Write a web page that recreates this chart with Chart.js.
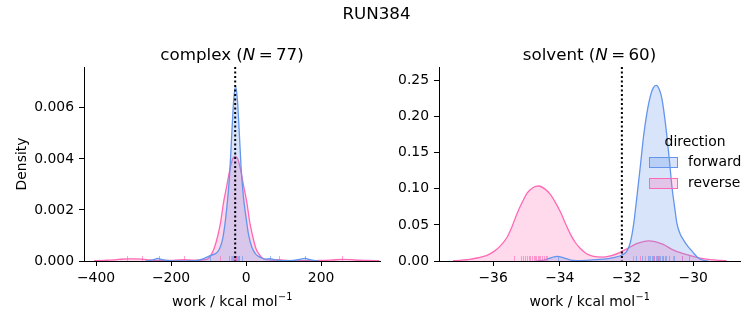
<!DOCTYPE html>
<html>
<head>
<meta charset="utf-8">
<script src="https://cdn.jsdelivr.net/npm/chart.js@4.4.1/dist/chart.umd.min.js"></script>
<style>
    html, body { margin: 0; padding: 0; background: #fff; }
    #wrap { position: relative; width: 753px; height: 325px; }
    #wrap canvas { position: absolute; left: 0; top: 0; }
</style>
</head>
<body>
<div id="wrap">
    <canvas id="complexChart" width="753" height="325"></canvas>
    <canvas id="solventChart" width="753" height="325"></canvas>
</div>
<script>
const FONT = "'DejaVu Sans', sans-serif";
const BLUE = '#6495ed';
const PINK = '#ff69b4';

// tick labels
const complexXTicks = [-400, -200, 0, 200];
const complexYTicks = [0, 0.002, 0.004, 0.006];
const solventXTicks = [-36, -34, -32, -30];
const solventYTicks = [0, 0.05, 0.10, 0.15, 0.20, 0.25];

// complex: density curves
const complexForwardX = [-268, -255, -245, -235, -225, -212, -195, -160, -130, -115, -100, -90, -80, -70, -62, -55, -48, -43, -38, -33, -28, -23, -18, -13, -7, 0, 7, 15, 25, 37, 50, 64, 78, 95, 125, 145, 157, 170, 193];
const complexForwardY = [0, 0.00002, 0.00006, 0.0001, 0.00006, 0.00002, 0.000005, 0.000005, 0.00002, 0.00008, 0.00018, 0.00024, 0.0003, 0.0005, 0.0009, 0.0016, 0.0026, 0.0036, 0.005, 0.0063, 0.00685, 0.0063, 0.005, 0.0036, 0.0025, 0.0017, 0.001, 0.00056, 0.00028, 0.00015, 0.00007, 0.00009, 0.00004, 0.00001, 0.00002, 0.00007, 0.0001, 0.00005, 0];
const complexReverseX = [-405, -370, -340, -318, -295, -278, -255, -230, -200, -180, -165, -150, -125, -110, -100, -91, -85, -76, -68, -60, -52, -43, -36, -29, -22, -15, -6, 2, 10, 18, 26, 33, 45, 60, 75, 88, 100, 130, 170, 200, 230, 256, 280, 300, 325, 355];
const complexReverseY = [0.00001, 0.00003, 0.00006, 0.00008, 0.00008, 0.00007, 0.00004, 0.00002, 0.00002, 0.00004, 0.00005, 0.00004, 0.00003, 0.00005, 0.0001, 0.0003, 0.0005, 0.00095, 0.0015, 0.0023, 0.0029, 0.0036, 0.004, 0.0041, 0.004, 0.0036, 0.0029, 0.0023, 0.0015, 0.00095, 0.0005, 0.0003, 0.0001, 0.00004, 0.00003, 0.00005, 0.00003, 0.00001, 0.00001, 0.00002, 0.00004, 0.00006, 0.00005, 0.00003, 0.00002, 0.00001];
const complexForwardRug = [-232, -96, -45, -38, -34, -31, -29, -27, -25, -22, -18, -12, 64, 157];
const complexReverseRug = [-318, -278, -165, -69, -40, -33, -30, -28, -26, -20, 88, 256];
const complexMarker = -29;

// solvent: density curves
const solventForwardX = [-34.7, -34.45, -34.25, -34.08, -33.9, -33.7, -33.5, -33.2, -32.9, -32.6, -32.35, -32.15, -32.0, -31.89, -31.79, -31.69, -31.59, -31.49, -31.39, -31.29, -31.2, -31.11, -31.02, -30.94, -30.86, -30.79, -30.71, -30.64, -30.56, -30.49, -30.39, -30.29, -30.19, -30.09, -29.99, -29.89, -29.79, -29.69, -29.55];
const solventForwardY = [0, 0.0015, 0.0048, 0.0065, 0.0048, 0.0015, 0.0005, 0.001, 0.002, 0.003, 0.005, 0.008, 0.013, 0.025, 0.05, 0.089, 0.13, 0.173, 0.205, 0.228, 0.24, 0.2435, 0.238, 0.225, 0.2, 0.173, 0.137, 0.103, 0.075, 0.052, 0.037, 0.029, 0.022, 0.0165, 0.011, 0.006, 0.0025, 0.001, 0];
const solventReverseX = [-37.2, -37.0, -36.7, -36.45, -36.2, -35.98, -35.78, -35.58, -35.43, -35.28, -35.13, -34.98, -34.8, -34.63, -34.45, -34.28, -34.13, -33.98, -33.84, -33.69, -33.54, -33.39, -33.2, -32.99, -32.69, -32.45, -32.19, -31.95, -31.7, -31.5, -31.34, -31.15, -30.9, -30.59, -30.35, -30.09, -29.8, -29.49, -29.2, -29.0];
const solventReverseY = [0.0005, 0.001, 0.0022, 0.0045, 0.0075, 0.013, 0.021, 0.033, 0.048, 0.066, 0.081, 0.094, 0.102, 0.104, 0.1, 0.092, 0.081, 0.068, 0.053, 0.038, 0.026, 0.0176, 0.01, 0.0065, 0.0055, 0.0075, 0.012, 0.018, 0.024, 0.027, 0.028, 0.027, 0.023, 0.015, 0.011, 0.0075, 0.004, 0.0018, 0.0008, 0.0004];
const solventForwardRug = [-34.06, -31.72, -31.55, -31.37, -31.3, -31.25, -31.21, -31.17, -31.13, -31.1, -31.07, -31.03, -30.99, -30.95, -30.9, -30.86, -30.81, -30.73, -30.57, -30.35, -30.12];
const solventReverseRug = [-35.36, -35.16, -35.1, -35.04, -34.98, -34.92, -34.88, -34.82, -34.78, -34.74, -34.7, -34.66, -34.62, -34.58, -34.52, -34.48, -34.42, -34.38, -31.8, -31.61, -31.45, -31.33, -31.19, -31.05, -30.9, -30.6, -30.35];
const solventMarker = -32.14;

const directions = ['forward', 'reverse'];

function points(xs, ys) {
    return xs.map((x, i) => ({ x: x, y: ys[i] }));
}

function fmtTick(v, decimals) {
    const s = decimals == null ? String(Math.abs(v)) : Math.abs(v).toFixed(decimals);
    return v < 0 ? '\u2212' + s : s;
}

function rgba(hex, a) {
    const n = parseInt(hex.slice(1), 16);
    return `rgba(${n >> 16}, ${(n >> 8) & 255}, ${n & 255}, ${a})`;
}

// title with italic N (mathtext-like spacing)
function drawTitle(ctx, cx, y, name, n) {
    const parts = [
        { t: name + ' (', f: `16.7px ${FONT}` },
        { t: 'N', f: `italic 16.7px ${FONT}` },
        { t: '\u2009=\u2009' + n, f: `16.7px ${FONT}` },
        { t: ')', f: `16.7px ${FONT}` }
    ];
    let total = 0;
    parts.forEach(p => { ctx.font = p.f; p.w = ctx.measureText(p.t).width; total += p.w; });
    let x = cx - total / 2;
    ctx.textAlign = 'left';
    parts.forEach(p => { ctx.font = p.f; ctx.fillText(p.t, x, y); x += p.w; });
}

const extrasPlugin = {
    id: 'extras',
    afterDatasetsDraw(chart, args, opts) {
        const ctx = chart.ctx;
        const xs = chart.scales.x;
        const area = chart.chartArea;
        ctx.save();
        // rug marks
        opts.rugs.forEach(r => {
            ctx.strokeStyle = rgba(r.color, 0.6);
            ctx.lineWidth = 1;
            r.values.forEach(v => {
                const px = Math.round(xs.getPixelForValue(v)) + 0.5;
                ctx.beginPath();
                ctx.moveTo(px, area.bottom);
                ctx.lineTo(px, area.bottom - 5);
                ctx.stroke();
            });
        });
        // dotted marker
        const mx = xs.getPixelForValue(opts.marker);
        ctx.strokeStyle = '#000';
        ctx.lineWidth = 2;
        ctx.setLineDash([2, 2.5]);
        ctx.beginPath();
        ctx.moveTo(mx, area.top);
        ctx.lineTo(mx, area.bottom);
        ctx.stroke();
        ctx.restore();
    },
    afterDraw(chart, args, opts) {
        const ctx = chart.ctx;
        const area = chart.chartArea;
        const cx = (area.left + area.right) / 2;
        ctx.save();
        ctx.fillStyle = '#000';
        ctx.textBaseline = 'alphabetic';
        drawTitle(ctx, cx, 60, opts.name, opts.n);
        ctx.font = `13.9px ${FONT}`;
        const xl = 'work / kcal mol';
        const w1 = ctx.measureText(xl).width;
        ctx.font = `9.7px ${FONT}`;
        const w2 = ctx.measureText('\u22121').width;
        ctx.textAlign = 'left';
        const x0 = cx - (w1 + w2) / 2;
        ctx.font = `13.9px ${FONT}`;
        ctx.fillText(xl, x0, 306);
        ctx.font = `9.7px ${FONT}`;
        ctx.fillText('\u22121', x0 + w1 + 0.5, 300);
        if (opts.suptitle) {
            ctx.font = `16.7px ${FONT}`;
            ctx.textAlign = 'center';
            ctx.fillText(opts.suptitle, 376.5, 19);
        }
        if (opts.ylabel) {
            ctx.save();
            ctx.translate(26, (area.top + area.bottom) / 2);
            ctx.rotate(-Math.PI / 2);
            ctx.font = `13.9px ${FONT}`;
            ctx.textAlign = 'center';
            ctx.fillText(opts.ylabel, 0, 0);
            ctx.restore();
        }
        if (opts.legend) {
            const lx = area.right - 91;
            ctx.font = `13.9px ${FONT}`;
            ctx.textAlign = 'center';
            ctx.textBaseline = 'middle';
            ctx.fillText('direction', area.right - 45, 142);
            [BLUE, PINK].forEach((c, i) => {
                const y = 157 + i * 21;
                ctx.fillStyle = rgba(c, 0.25);
                ctx.fillRect(lx, y, 28, 10);
                ctx.strokeStyle = c;
                ctx.lineWidth = 1;
                ctx.strokeRect(lx + 0.5, y + 0.5, 28, 10);
                ctx.fillStyle = '#000';
                ctx.textAlign = 'left';
                ctx.fillText(directions[i], area.right - 52, y + 5);
            });
        }
        ctx.restore();
    }
};

function makeChart(id, cfg) {
    const ds = (xs, ys, color) => ({
        data: points(xs, ys),
        borderColor: color,
        backgroundColor: rgba(color, 0.25),
        borderWidth: 1.3,
        pointRadius: 0,
        fill: 'origin',
        cubicInterpolationMode: 'monotone'
    });
    return new Chart(document.getElementById(id), {
        type: 'line',
        data: {
            datasets: [
                ds(cfg.fx, cfg.fy, BLUE),
                ds(cfg.rx, cfg.ry, PINK)
            ]
        },
        options: {
            responsive: false,
            animation: false,
            layout: { padding: cfg.padding },
            plugins: {
                legend: { display: false },
                tooltip: { enabled: false },
                extras: cfg.extras
            },
            scales: {
                x: {
                    type: 'linear',
                    min: cfg.xmin,
                    max: cfg.xmax,
                    afterBuildTicks: s => { s.ticks = cfg.xticks.map(v => ({ value: v })); },
                    afterFit: s => { s.height = 40; },
                    grid: { drawOnChartArea: false, drawTicks: true, tickLength: 5, color: '#000' },
                    border: { display: true, color: '#000', width: 1 },
                    ticks: {
                        color: '#000', padding: 4, maxRotation: 0,
                        font: { family: FONT, size: 13.9 },
                        callback: v => fmtTick(v)
                    }
                },
                y: {
                    type: 'linear',
                    min: 0,
                    max: cfg.ymax,
                    afterBuildTicks: s => { s.ticks = cfg.yticks.map(v => ({ value: v })); },
                    afterFit: s => { s.width = 50; },
                    grid: { drawOnChartArea: false, drawTicks: true, tickLength: 5, color: '#000' },
                    border: { display: true, color: '#000', width: 1 },
                    ticks: {
                        color: '#000', padding: 5,
                        font: { family: FONT, size: 13.9 },
                        callback: v => fmtTick(v, cfg.decimals)
                    }
                }
            }
        },
        plugins: [extrasPlugin]
    });
}

makeChart('complexChart', {
    fx: complexForwardX, fy: complexForwardY,
    rx: complexReverseX, ry: complexReverseY,
    xmin: -432, xmax: 357, ymax: 0.0076,
    xticks: complexXTicks, yticks: complexYTicks, decimals: 3,
    padding: { left: 34, right: 373, top: 67, bottom: 24 },
    extras: {
        rugs: [{ values: complexForwardRug, color: BLUE }, { values: complexReverseRug, color: PINK }],
        marker: complexMarker,
        name: 'complex', n: 77,
        suptitle: 'RUN384',
        ylabel: 'Density'
    }
});

makeChart('solventChart', {
    fx: solventForwardX, fy: solventForwardY,
    rx: solventReverseX, ry: solventReverseY,
    xmin: -37.62, xmax: -28.6, ymax: 0.269,
    xticks: solventXTicks, yticks: solventYTicks, decimals: 2,
    padding: { left: 389, right: 13, top: 67, bottom: 24 },
    extras: {
        rugs: [{ values: solventForwardRug, color: BLUE }, { values: solventReverseRug, color: PINK }],
        marker: solventMarker,
        name: 'solvent', n: 60,
        legend: true
    }
});
</script>
</body>
</html>
